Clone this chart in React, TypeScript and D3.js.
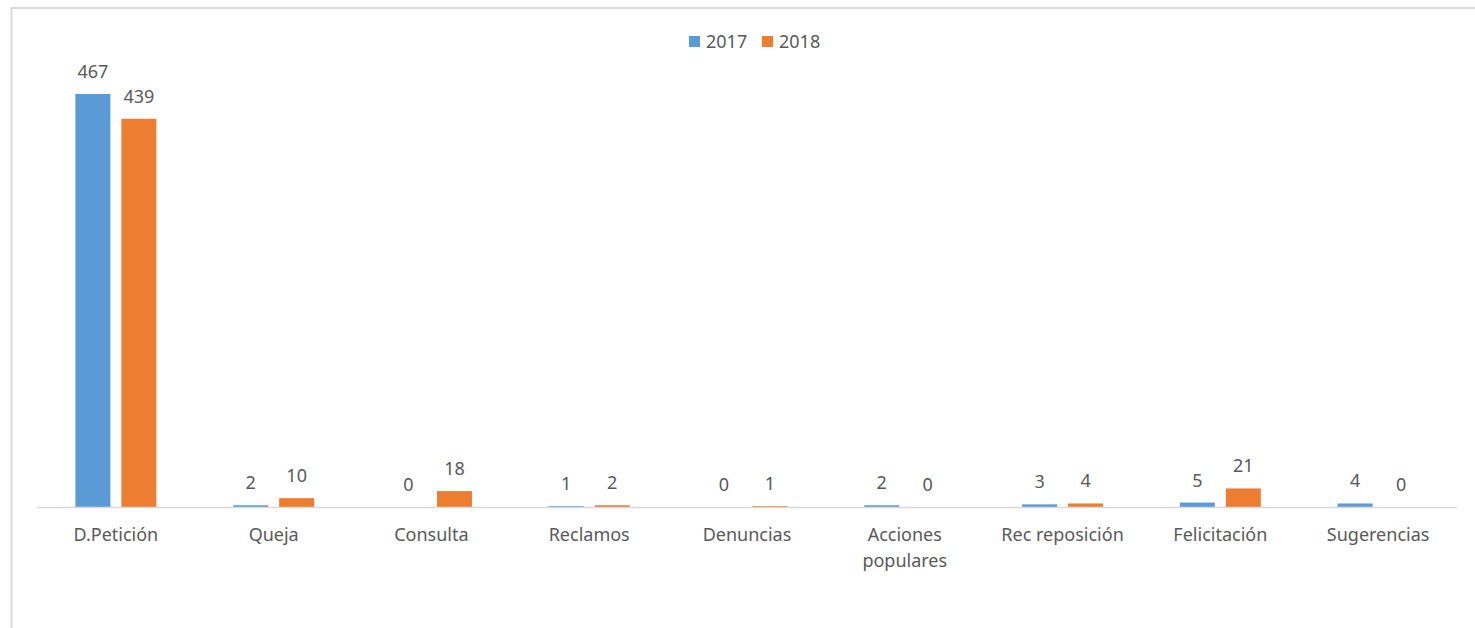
import React from "react";
import * as d3 from "d3";

const categories = ["D.Petición", "Queja", "Consulta", "Reclamos", "Denuncias", "Acciones populares", "Rec reposición", "Felicitación", "Sugerencias"];
const seriesNames = ["2017", "2018"];
const values2017 = [467, 2, 0, 1, 0, 2, 3, 5, 4];
const values2018 = [439, 10, 18, 2, 1, 0, 4, 21, 0];
const colors = ["#5B9BD5", "#ED7D31"];

const W = 1475;
const H = 628;
const FONT = "Noto Sans, sans-serif";

export default function App() {
  const x0 = d3.scaleBand<string>().domain(categories).range([37, 1457]).paddingInner(0).paddingOuter(0);
  const groupW = 81;
  const x1 = d3.scaleBand<string>().domain(seriesNames).range([0, groupW]).paddingInner(11 / 46).paddingOuter(0);
  const y = d3.scaleLinear().domain([0, 467]).range([507, 94]);
  const series = [values2017, values2018];

  const wrap = (c: string) => (c === "Acciones populares" ? ["Acciones", "populares"] : [c]);

  return (
    <svg width={W} height={H} style={{ position: "absolute", left: 0, top: 0, background: "#fff" }}>
      <rect x={11.5} y={8} width={W} height={H} fill="#fff" stroke="#d9d9d9" strokeWidth={2} />
      {/* legend */}
      {seriesNames.map((s, i) => (
        <g key={s} transform={`translate(${689 + i * 73},36)`}>
          <rect width={11} height={11} fill={colors[i]} />
          <text x={17} y={5.5} dy="0.35em" fontSize={18} fill="#595959" fontFamily={FONT}>{s}</text>
        </g>
      ))}
      {/* bars */}
      {categories.map((c, ci) => {
        const gx = (x0(c) as number) + x0.bandwidth() / 2 - groupW / 2;
        return (
          <g key={c} transform={`translate(${gx},0)`}>
            {seriesNames.map((s, si) => {
              const v = series[si][ci];
              const bx = x1(s) as number;
              const bw = x1.bandwidth();
              return (
                <g key={s}>
                  <rect x={bx} y={y(v)} width={bw} height={507 - y(v)} fill={colors[si]} />
                  <text x={bx + bw / 2} y={y(v) - 16} textAnchor="middle" fontSize={18} fill="#595959" fontFamily={FONT}>{v}</text>
                </g>
              );
            })}
          </g>
        );
      })}
      <line x1={37} x2={1457} y1={507.5} y2={507.5} stroke="#d9d9d9" strokeWidth={1.5} />
      {categories.map((c) => (
        <text key={c} x={(x0(c) as number) + x0.bandwidth() / 2} y={541} textAnchor="middle" fontSize={18} fill="#595959" fontFamily={FONT}>
          {wrap(c).map((l, li) => (
            <tspan key={li} x={(x0(c) as number) + x0.bandwidth() / 2} dy={li === 0 ? 0 : 26}>{l}</tspan>
          ))}
        </text>
      ))}
    </svg>
  );
}
